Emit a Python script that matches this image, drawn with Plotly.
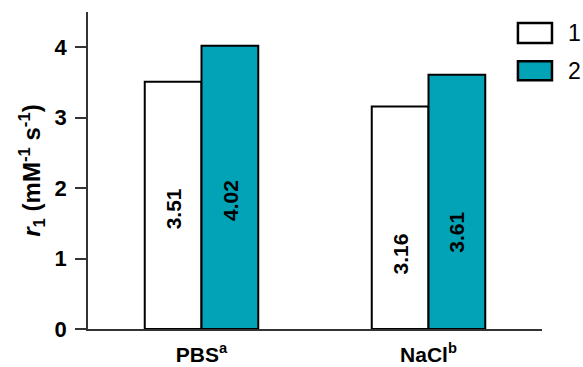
import plotly.graph_objects as go

categories = ["PBS<sup>a</sup>", "NaCl<sup>b</sup>"]
series_names = ["1", "2"]
values_1 = [3.51, 3.16]
values_2 = [4.02, 3.61]
labels_1 = ["3.51", "3.16"]
labels_2 = ["4.02", "3.61"]
y_ticks = [0, 1, 2, 3, 4]

colors = ["#FFFFFF", "#02A3B6"]
label_y = [[1.70, 1.06], [1.83, 1.38]]  # vertical placement of in-bar labels

FONT = "Liberation Sans, Arial, sans-serif"

fig = go.Figure()
for vals, name, col in [(values_1, series_names[0], colors[0]), (values_2, series_names[1], colors[1])]:
    fig.add_trace(go.Bar(
        x=categories, y=vals, name=name,
        marker=dict(color=col, line=dict(color="black", width=2)),
        showlegend=False,
    ))

annotations = []
for si, labs in enumerate([labels_1, labels_2]):
    for ci, lab in enumerate(labs):
        annotations.append(dict(
            x=ci + (-0.125 if si == 0 else 0.125), y=label_y[si][ci],
            xref="x", yref="y", text="<b>" + lab + "</b>", textangle=-90, showarrow=False,
            font=dict(family=FONT, size=21, color="black"),
        ))

# manual legend
leg_y = [(0.965, 0.902), (0.845, 0.785)]
shapes = []
for i, name in enumerate(series_names):
    y1, y0 = leg_y[i]
    shapes.append(dict(type="rect", xref="paper", yref="paper",
                       x0=0.947, x1=1.022, y0=y0, y1=y1,
                       fillcolor=colors[i], line=dict(color="black", width=2.5)))
    annotations.append(dict(x=1.052, y=(y0 + y1) / 2, xref="paper", yref="paper",
                            text=name, showarrow=False, xanchor="left", yanchor="middle",
                            font=dict(family=FONT, size=23, color="black")))

fig.update_layout(
    width=583, height=367,
    margin=dict(l=88, r=41, t=12, b=38),
    paper_bgcolor="white", plot_bgcolor="white",
    barmode="group", bargap=0.5, bargroupgap=0,
    font=dict(family=FONT, color="black"),
    shapes=shapes, annotations=annotations,
    xaxis=dict(
        range=[-0.5, 1.5], showline=True, linecolor="#333333", linewidth=1.5,
        ticks="outside", ticklen=6, tickcolor="rgba(0,0,0,0)", automargin=False,
        showgrid=False, zeroline=False,
        tickvals=categories, ticktext=["<b>" + c + "</b>" for c in categories],
        tickfont=dict(family=FONT, size=21, color="black"),
    ),
    yaxis=dict(
        range=[0, 4.5], tickvals=y_ticks, ticktext=["<b>%d</b>" % t for t in y_ticks],
        showline=True, linecolor="#333333", linewidth=1.5, automargin=False,
        ticks="outside", ticklen=11, tickcolor="#333333", tickwidth=1.5,
        ticklabelstandoff=4,
        showgrid=False, zeroline=False,
        tickfont=dict(family=FONT, size=22, color="black"),
        title=dict(text="<b><i>r</i><sub>1</sub> (mM<sup>-1</sup> s<sup>-1</sup>)</b>",
                   font=dict(family=FONT, size=24, color="black"), standoff=7),
    ),
)

fig.write_html("out.html")
